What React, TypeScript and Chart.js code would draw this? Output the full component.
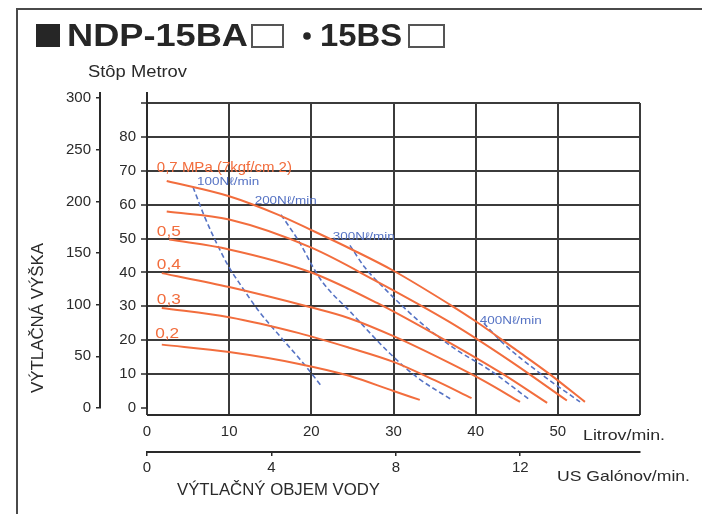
import React, { useEffect, useRef } from 'react';
import { Chart, registerables } from 'chart.js';

Chart.register(...registerables);

const FONT = '"Liberation Sans", Arial, Helvetica, sans-serif';
const ORANGE = '#f26d3d';
const BLUE = '#5673c4';
const GRID = '#3b3b3b';
const INK = '#2a2a2a';

// ---- data (flow in L/min, head in m) ----
const p07Flow = [2.4, 10, 16, 20, 25, 30, 36.8, 40, 45, 49, 53.3];
const p07Head = [67, 62.5, 57, 52.5, 46.7, 40.5, 30.6, 25.6, 17, 10, 1.8];
const p06Flow = [2.4, 10, 20, 28, 36.8, 44, 51.1];
const p06Head = [58, 55.6, 47.3, 37.3, 25.4, 14.2, 2.2];
const p05Flow = [2.7, 10, 20, 28, 36.8, 43, 48.7];
const p05Head = [49.7, 46.8, 40, 31, 19.3, 10.5, 1.5];
const p04Flow = [1.8, 10, 19.8, 24.6, 30, 36.8, 41, 45.4];
const p04Head = [39.8, 35.7, 29.8, 26.5, 21.2, 13.3, 8, 1.8];
const p03Flow = [1.8, 10, 18.5, 24.6, 30, 35, 39.5];
const p03Head = [29.5, 26.8, 22.1, 17.8, 13.6, 8.2, 2.9];
const p02Flow = [1.8, 10, 18.5, 24.6, 30, 33.2];
const p02Head = [18.7, 16.5, 13.0, 9.5, 5.0, 2.4];

const a100Flow = [5.6, 7, 8.8, 10, 11.2, 13.7, 16.5, 19.4, 21.3];
const a100Head = [65.2, 56.5, 47, 41.5, 37, 28.3, 20.3, 12.1, 6.2];
const a200Flow = [16.3, 17.0, 18.6, 20.2, 21.4, 24.7, 29.6, 32.9, 37.1];
const a200Head = [57, 54.6, 48.7, 41.6, 37, 28.5, 16, 9, 2.4];
const a300Flow = [24.7, 26.5, 29.1, 31.6, 34.4, 37.7, 41.7, 46.6];
const a300Head = [48, 41.5, 34.8, 28.9, 23.0, 17.1, 11.2, 2.4];
const a400Flow = [41, 43.3, 47.8, 52.7];
const a400Head = [25, 19.2, 10.3, 1.8];

const pressureLabels = ['0,7 MPa (7kgf/cm 2)', '0,5', '0,4', '0,3', '0,2'];
const pressureLabelFlow = [1.2, 1.2, 1.2, 1.2, 1.0];
const pressureLabelHead = [70.8, 51.9, 42.2, 31.9, 21.8];
const airLabels = ['100Nℓ/min', '200Nℓ/min', '300Nℓ/min', '400Nℓ/min'];
const airLabelFlow = [6.1, 13.1, 22.6, 40.5];
const airLabelHead = [66.7, 61.1, 50.5, 25.7];

const meterTicks = [0, 10, 20, 30, 40, 50, 60, 70, 80, 90];
const feetTicks = [0, 50, 100, 150, 200, 250, 300];
const litrovTicks = [0, 10, 20, 30, 40, 50, 60];
const gallonTicks = [0, 4, 8, 12];

const L_PER_GAL = 3.78541;
const FT_PER_M = 3.28084;
const FLOW_MAX = 60;
const HEAD_MAX = 90;

const pts = (xs: number[], ys: number[]) => xs.map((x, i) => ({ x, y: ys[i] }));

function drawText(
  ctx: CanvasRenderingContext2D,
  s: string,
  x: number,
  y: number,
  size: number,
  color: string,
  o: { bold?: boolean; align?: CanvasTextAlign; stretch?: number; width?: number; rotate?: number; baseline?: CanvasTextBaseline } = {}
) {
  ctx.save();
  ctx.font = `${o.bold ? 'bold ' : ''}${size}px ${FONT}`;
  ctx.fillStyle = color;
  ctx.textBaseline = o.baseline || 'middle';
  ctx.textAlign = o.align || 'left';
  ctx.translate(x, y);
  if (o.rotate) ctx.rotate(o.rotate);
  let sx = o.stretch ?? 1;
  if (o.width) sx = o.width / ctx.measureText(s).width;
  ctx.scale(sx, 1);
  ctx.fillText(s, 0, 0);
  ctx.restore();
}

const decor = {
  id: 'decor',
  afterDraw(chart: any) {
    const { ctx, chartArea: a, scales } = chart;
    const sx = scales.x;
    const sy = scales.y;
    ctx.save();

    // frame
    ctx.strokeStyle = '#4a4a4a';
    ctx.lineWidth = 2;
    ctx.beginPath();
    ctx.moveTo(17, chart.height);
    ctx.lineTo(17, 9);
    ctx.lineTo(chart.width, 9);
    ctx.stroke();

    // title
    ctx.fillStyle = '#262626';
    ctx.fillRect(36, 24, 24, 23);
    drawText(ctx, 'NDP-15BA', 67, 46, 31, '#262626', { bold: true, width: 181, baseline: 'alphabetic' });
    ctx.strokeStyle = '#555';
    ctx.lineWidth = 2;
    ctx.strokeRect(252, 25, 31, 22);
    ctx.beginPath();
    ctx.arc(307, 36, 3.8, 0, Math.PI * 2);
    ctx.fillStyle = '#262626';
    ctx.fill();
    drawText(ctx, '15BS', 320, 46, 31, '#262626', { bold: true, width: 82, baseline: 'alphabetic' });
    ctx.strokeRect(409, 25, 35, 22);

    drawText(ctx, 'Stôp Metrov', 88, 73, 16, INK, { width: 99 });

    // y axis line extensions above the grid
    ctx.strokeStyle = INK;
    ctx.lineWidth = 2;
    ctx.beginPath();
    ctx.moveTo(scales.yf.right, a.top);
    ctx.lineTo(scales.yf.right, a.top - 11);
    ctx.moveTo(sy.right, a.top);
    ctx.lineTo(sy.right, a.top - 11);
    ctx.stroke();

    // litrov axis line
    const ly = a.bottom + 7;
    ctx.beginPath();
    ctx.moveTo(sx.getPixelForValue(0), ly);
    ctx.lineTo(sx.getPixelForValue(FLOW_MAX), ly);
    ctx.stroke();

    // axis titles / units
    drawText(ctx, 'VÝTLAČNÁ VÝŠKA', 39, 318, 16, INK, { align: 'center', rotate: -Math.PI / 2, width: 150 });
    drawText(ctx, 'Litrov/min.', 583, 436, 15, INK, { width: 82 });
    drawText(ctx, 'US Galónov/min.', 557, 477, 15, INK, { width: 133 });
    drawText(ctx, 'VÝTLAČNÝ OBJEM VODY', 177, 491, 16, INK, { width: 203 });

    // curve labels
    pressureLabels.forEach((s, i) => {
      drawText(ctx, s, sx.getPixelForValue(pressureLabelFlow[i]), sy.getPixelForValue(pressureLabelHead[i]), 15, ORANGE, {
        stretch: i === 0 ? 1.0 : 1.15,
      });
    });
    airLabels.forEach((s, i) => {
      drawText(ctx, s, sx.getPixelForValue(airLabelFlow[i]), sy.getPixelForValue(airLabelHead[i]), 11, BLUE, { width: 62 });
    });

    ctx.restore();
  },
};

export default function App() {
  const ref = useRef<HTMLCanvasElement | null>(null);

  useEffect(() => {
    if (!ref.current) return;
    const orange = (xs: number[], ys: number[]) => ({
      data: pts(xs, ys),
      borderColor: ORANGE,
      borderWidth: 2,
      pointRadius: 0,
      fill: false,
      cubicInterpolationMode: 'monotone' as const,
    });
    const blue = (xs: number[], ys: number[]) => ({
      data: pts(xs, ys),
      borderColor: BLUE,
      borderWidth: 1.6,
      borderDash: [5, 3],
      pointRadius: 0,
      fill: false,
      cubicInterpolationMode: 'monotone' as const,
    });

    const chart = new Chart(ref.current, {
      type: 'line',
      data: {
        datasets: [
          orange(p07Flow, p07Head),
          orange(p06Flow, p06Head),
          orange(p05Flow, p05Head),
          orange(p04Flow, p04Head),
          orange(p03Flow, p03Head),
          orange(p02Flow, p02Head),
          blue(a100Flow, a100Head),
          blue(a200Flow, a200Head),
          blue(a300Flow, a300Head),
          blue(a400Flow, a400Head),
        ] as any,
      },
      options: {
        animation: false,
        responsive: false,
        devicePixelRatio: 1,
        layout: { padding: { left: 50, right: 62, top: 103, bottom: 32 } },
        plugins: { legend: { display: false }, tooltip: { enabled: false }, title: { display: false } },
        scales: {
          x: {
            type: 'linear',
            position: 'bottom',
            weight: 0,
            min: 0,
            max: FLOW_MAX,
            afterBuildTicks: (s: any) => {
              s.ticks = litrovTicks.map((v) => ({ value: v }));
            },
            ticks: {
              callback: (v: any) => (v === FLOW_MAX ? '' : String(v)),
              font: { size: 15, family: FONT },
              color: INK,
              padding: 8,
              maxRotation: 0,
              autoSkip: false,
            },
            grid: { color: GRID, lineWidth: 2, tickLength: 7, tickColor: GRID, tickWidth: 2 },
            border: { display: false },
            afterFit: (s: any) => {
              s.height = 44;
            },
          },
          xg: {
            type: 'linear',
            position: 'bottom',
            weight: 1,
            min: 0,
            max: FLOW_MAX / L_PER_GAL,
            afterBuildTicks: (s: any) => {
              s.ticks = gallonTicks.map((v) => ({ value: v }));
            },
            ticks: { font: { size: 15, family: FONT }, color: INK, padding: 3, maxRotation: 0, autoSkip: false },
            grid: { drawOnChartArea: false, tickLength: 4, color: INK, lineWidth: 1.5 },
            border: { display: true, color: INK, width: 2 },
            afterFit: (s: any) => {
              s.height = 30;
            },
          },
          y: {
            type: 'linear',
            position: 'left',
            weight: 0,
            min: 0,
            max: HEAD_MAX,
            afterBuildTicks: (s: any) => {
              s.ticks = meterTicks.map((v) => ({ value: v }));
            },
            ticks: {
              callback: (v: any) => (v === HEAD_MAX ? '' : String(v)),
              font: { size: 15, family: FONT },
              color: INK,
              padding: 5,
              autoSkip: false,
            },
            grid: {
              color: (c: any) => (c.tick && c.tick.value === 0 ? 'rgba(0,0,0,0)' : GRID),
              lineWidth: 2,
              tickLength: 6,
              tickColor: INK,
              tickWidth: 1.5,
            },
            border: { display: true, color: INK, width: 2 },
            afterFit: (s: any) => {
              s.width = 47;
            },
          },
          yf: {
            type: 'linear',
            position: 'left',
            weight: 1,
            min: 0,
            max: HEAD_MAX * FT_PER_M,
            afterBuildTicks: (s: any) => {
              s.ticks = feetTicks.map((v) => ({ value: v }));
            },
            ticks: { font: { size: 15, family: FONT }, color: INK, padding: 5, autoSkip: false },
            grid: { drawOnChartArea: false, tickLength: 4, color: INK, lineWidth: 1.5 },
            border: { display: true, color: INK, width: 2 },
            afterFit: (s: any) => {
              s.width = 50;
            },
          },
        } as any,
      },
      plugins: [decor],
    });
    return () => chart.destroy();
  }, []);

  return (
    <div style={{ position: 'absolute', left: 0, top: 0, width: 702, height: 514, background: '#fff' }}>
      <canvas ref={ref} width={702} height={514} style={{ display: 'block' }} />
    </div>
  );
}
